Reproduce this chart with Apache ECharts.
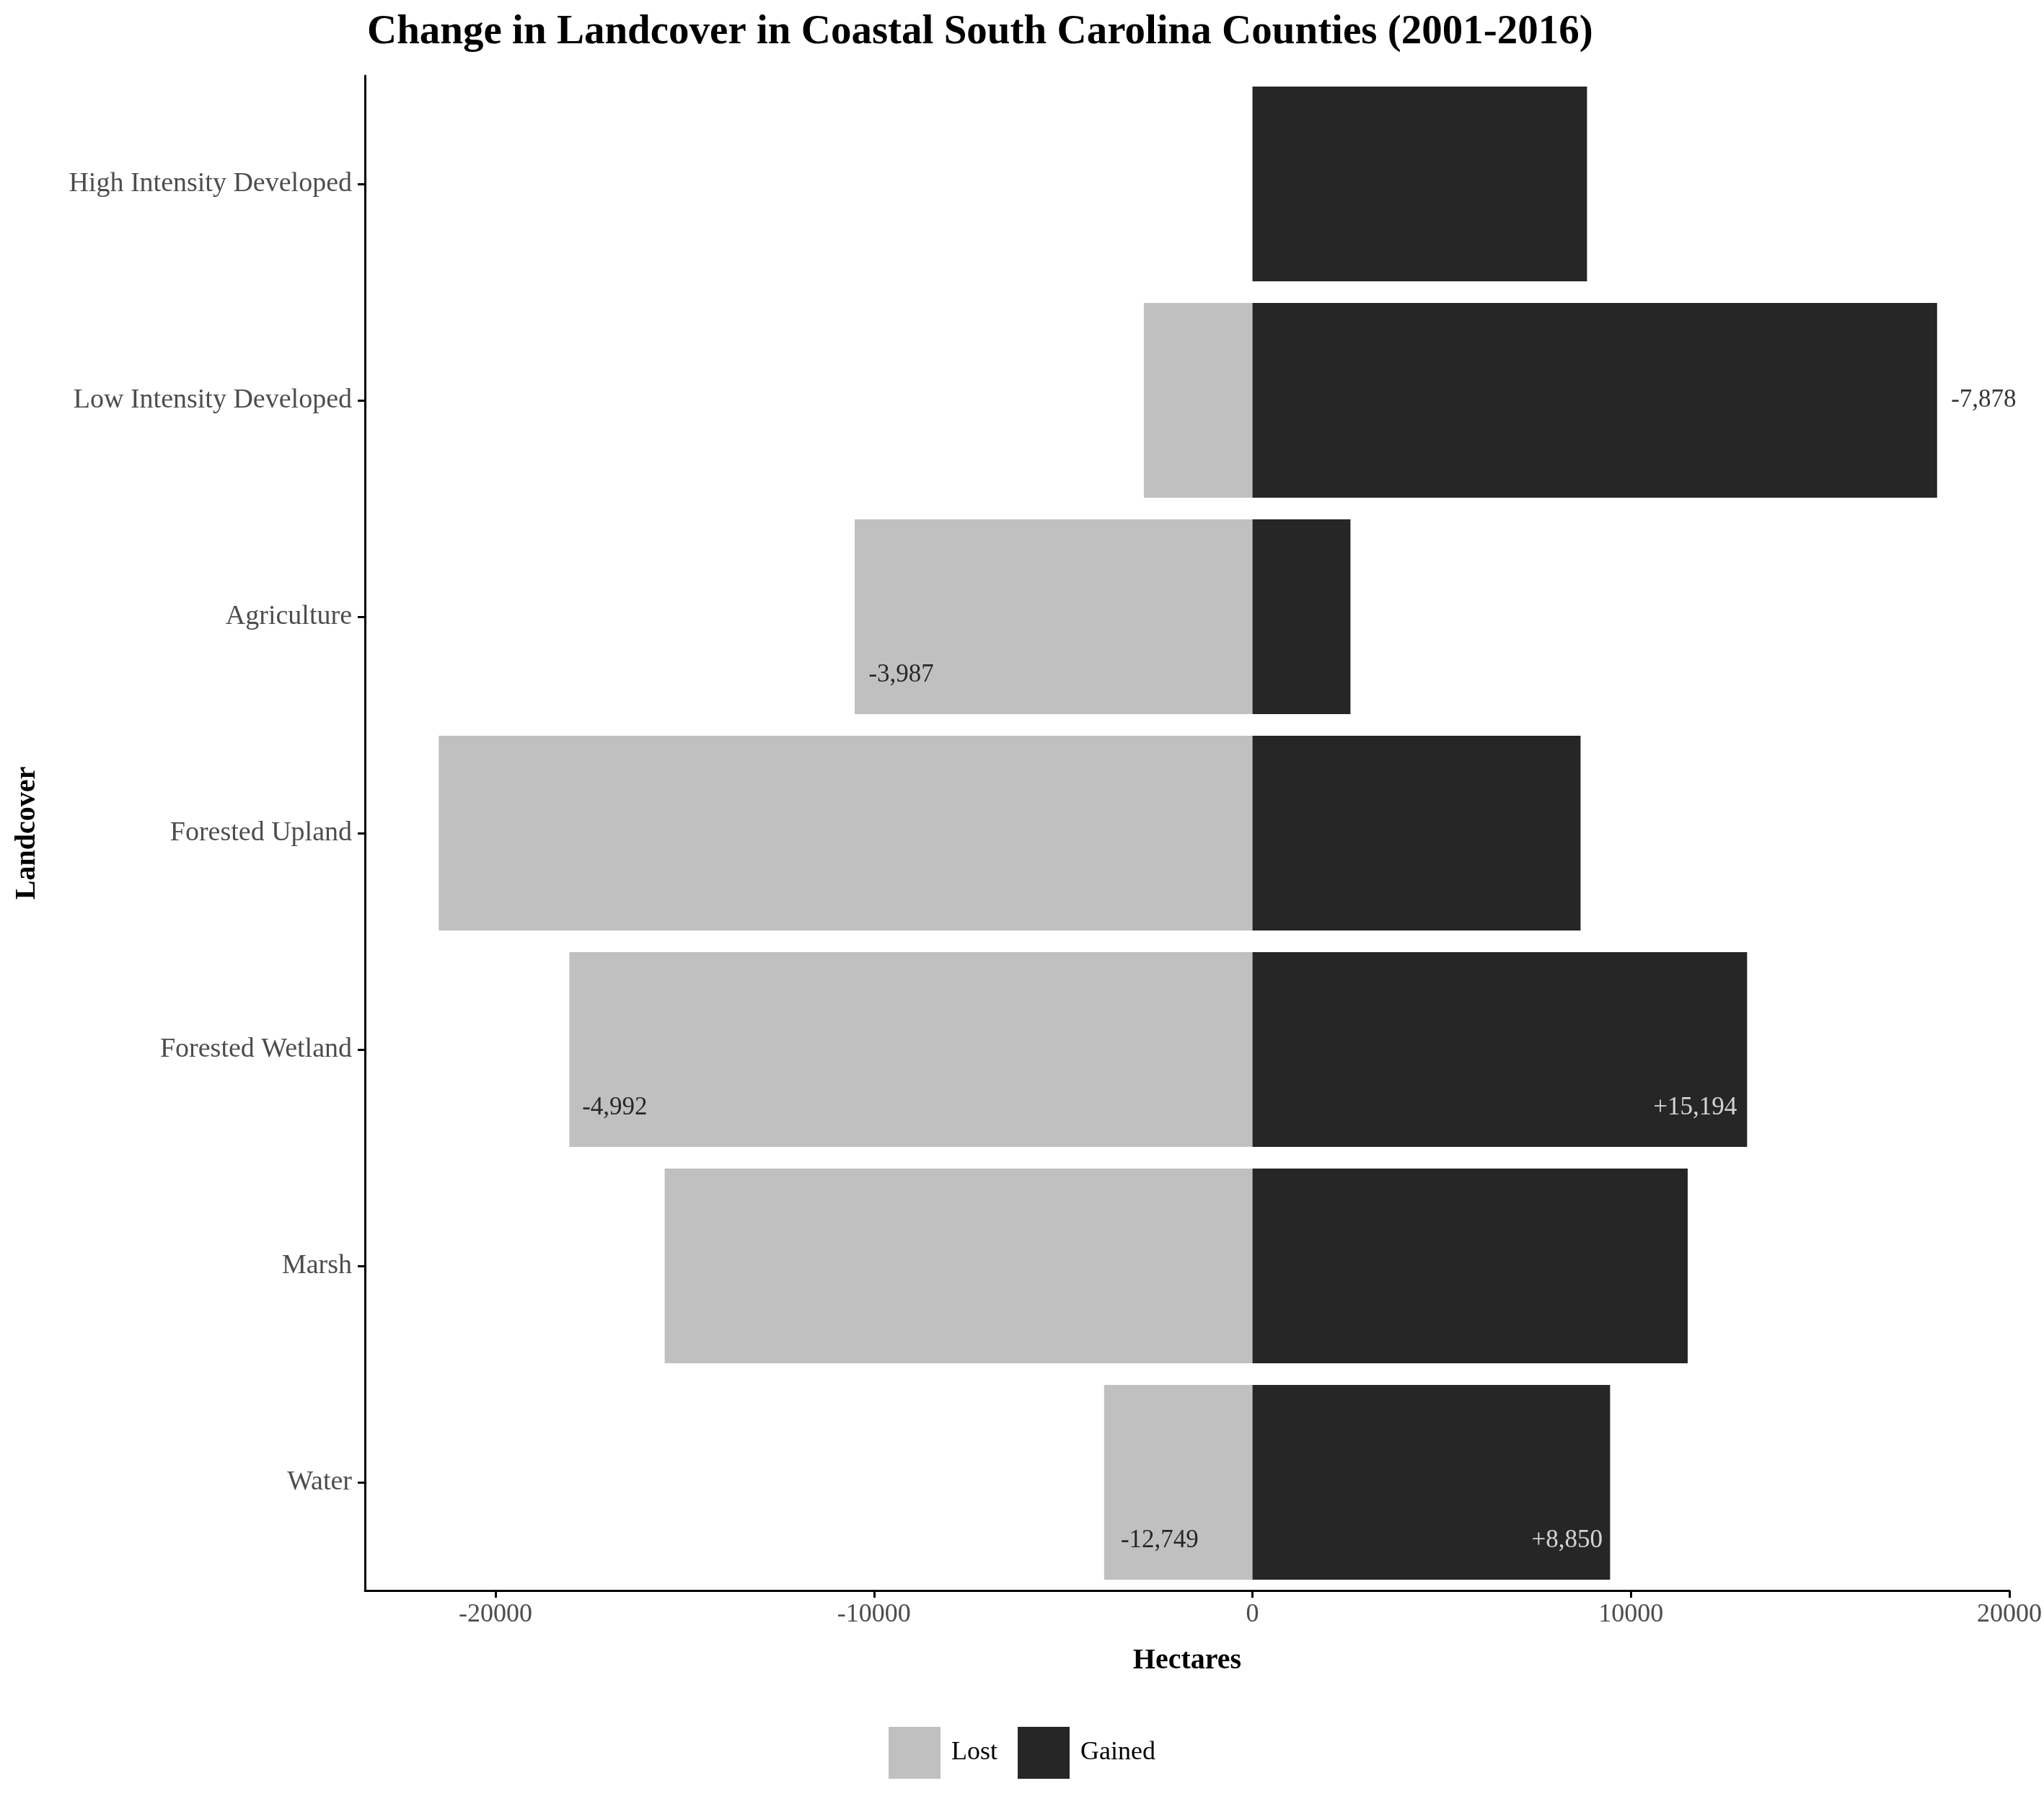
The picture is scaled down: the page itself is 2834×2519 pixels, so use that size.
<!DOCTYPE html>
<html><head><meta charset="utf-8">
<script src="https://cdn.jsdelivr.net/npm/echarts@6/dist/echarts.min.js"></script>
<style>html,body{margin:0;background:#fff}#c{width:2834px;height:2519px}</style>
</head><body><div id="c"></div>
<script>
const categories = ["High Intensity Developed","Low Intensity Developed","Agriculture","Forested Upland","Forested Wetland","Marsh","Water"];
const lost = [0,-2870,-10510,-21500,-18050,-15530,-3920];
const gained = [8840,18090,2590,8670,13070,11500,9450];
const tickValues = [-20000,-10000,0,10000,20000];
// annotation labels
const annText = ["-7,878","-3,987","-4,992","+15,194","-12,749","+8,850"];
const annX = [18460,-10140,-17710,12800,-3480,9250];
const annY = [1.5,2.77,4.77,4.77,6.77,6.77];
const annAlign = ["left","left","left","right","left","right"];
const annColor = ["#000","#000","#000","#fff","#000","#fff"];

const F = "Liberation Serif";
const chart = echarts.init(document.getElementById('c'));
chart.setOption({
  animation:false,
  textStyle:{fontFamily:F},
  title:{text:"Change in Landcover in Coastal South Carolina Counties (2001-2016)",left:504,top:12,
    textStyle:{fontFamily:F,fontWeight:'bold',fontSize:57,color:'#000'}},
  legend:{bottom:48,left:'center',itemWidth:72,itemHeight:72,itemGap:28,
    textStyle:{fontFamily:F,fontSize:36,color:'#000',padding:[0,0,0,10]},
    data:[{name:'Lost',icon:'rect'},{name:'Gained',icon:'rect'}]},
  grid:{left:506,right:28,top:105,bottom:314,containLabel:false},
  xAxis:{type:'value',min:-23450,max:20000,
    axisLine:{show:true,onZero:false,lineStyle:{color:'#000',width:3}},
    axisTick:{show:true,customValues:tickValues,length:10,lineStyle:{color:'#000',width:3}},
    axisLabel:{customValues:tickValues,fontSize:36,color:'#4d4d4d',margin:16,formatter:v=>String(v)},
    splitLine:{show:false},
    name:'Hectares',nameLocation:'middle',nameGap:78,
    nameTextStyle:{fontFamily:F,fontSize:40,fontWeight:'bold',color:'#000'}},
  yAxis:[{type:'category',data:categories,inverse:true,
    axisLine:{show:true,onZero:false,lineStyle:{color:'#000',width:3}},
    axisTick:{show:true,alignWithLabel:true,length:10,lineStyle:{color:'#000',width:3}},
    axisLabel:{fontSize:38,color:'#4d4d4d',margin:18},
    name:'Landcover',nameLocation:'middle',nameGap:448,nameRotate:90,
    nameTextStyle:{fontFamily:F,fontSize:40,fontWeight:'bold',color:'#000'}},
    {type:'value',min:0,max:7,inverse:true,show:false}],
  series:[
    {name:'Lost',type:'bar',stack:'a',data:lost,barCategoryGap:'10%',itemStyle:{color:'#c0c0c0'}},
    {name:'Gained',type:'bar',stack:'a',data:gained,barCategoryGap:'10%',itemStyle:{color:'#262626'}},
    {type:'scatter',yAxisIndex:1,symbolSize:0,silent:true,
     data:annText.map((t,i)=>({value:[annX[i],annY[i]],
       label:{show:true,formatter:t,position:annAlign[i]==='left'?'right':'left',distance:0,
         fontFamily:F,fontSize:35,color:annColor[i]}}))}
  ]
});
</script></body></html>
